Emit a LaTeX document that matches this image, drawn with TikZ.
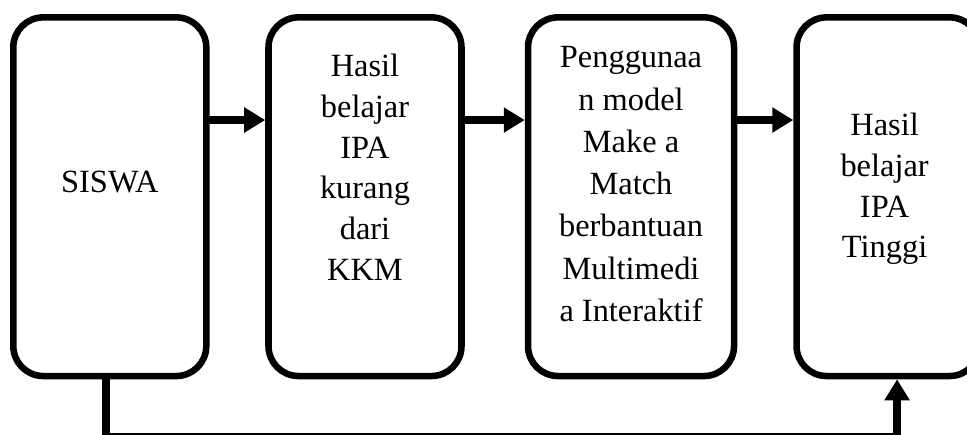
\documentclass[tikz,border=0pt]{standalone}
\usepackage{fontspec}
\setmainfont{Liberation Serif}
\usetikzlibrary{positioning,arrows.meta}

\tikzset{
box/.style={draw, line width=4.9pt, rounded corners=22.5pt, minimum height=269pt, inner sep=0pt, outer sep=0pt},
boxtext/.style={align=center, inner sep=0pt, font=\fontsize{24.3pt}{30.5pt}\selectfont},
flow/.style={line width=6pt, -{Triangle[length=15.75pt,width=18pt]}, shorten >=2.45pt},
}

\begin{document}
\begin{tikzpicture}[x=0.75pt, y=-0.75pt]
\useasboundingbox (0,0) rectangle (967,435);
\clip (0,0) rectangle (967,435);

\node [box, minimum width=144.75pt] (siswa) at (109.8,196.7) {};
\node [box, minimum width=144.75pt, right = 46.65pt of siswa] (hasil) {};
\node [box, minimum width=154.5pt, right = 49.9pt of hasil] (model) {};
\node [box, minimum width=137.25pt, right = 46.9pt of model] (tinggi) {};

\node [boxtext, anchor=base] (t1) at ([yshift=3.5pt]siswa.center) {SISWA};
\node [boxtext, anchor=north] (t2) at ([yshift=-27.45pt]hasil.north) {Hasil\\belajar\\IPA\\kurang\\dari\\KKM};
\node [boxtext, anchor=north, font=\fontsize{24.3pt}{31.7pt}\selectfont] (t3) at ([yshift=-21.8pt]model.north) {Penggunaa\\n model\\Make a\\Match\\berbantuan\\Multimedi\\a Interaktif};
\node [boxtext, anchor=north] (t4) at ([xshift=-2.6pt, yshift=-71.7pt]tinggi.north) {Hasil\\belajar\\IPA\\Tinggi};

\draw [flow] ([yshift=57.5pt]siswa.east) -- ([yshift=57.5pt]hasil.west);
\draw [flow] ([yshift=57.5pt]hasil.east) -- ([yshift=57.5pt]model.west);
\draw [flow] ([yshift=57.5pt]model.east) -- ([yshift=57.5pt]tinggi.west);
\draw [flow] ([xshift=-2.85pt]siswa.south) -- ++(0,61) -| ([xshift=6.75pt]tinggi.south);
\end{tikzpicture}
\end{document}
